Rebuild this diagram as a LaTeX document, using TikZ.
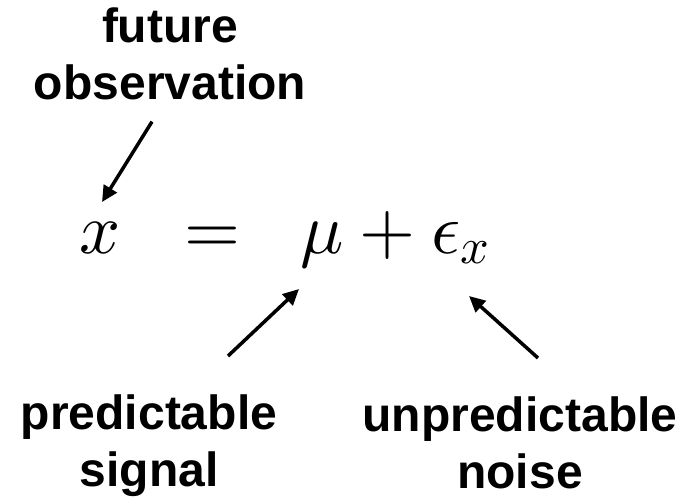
\documentclass[tikz,border=0pt]{standalone}
\usepackage{fix-cm}
\usepackage{amsmath}
\usepackage[no-math]{fontspec}
\newfontfamily\labelfont{Liberation Sans}
\usetikzlibrary{arrows.meta}
% heavier 10pt design sizes for the big formula
\DeclareFontShape{OML}{cmm}{m}{it}{<->cmmi10}{}
\DeclareFontShape{OT1}{cmr}{m}{n}{<->cmr10}{}

\begin{document}
\begin{tikzpicture}[x=1pt,y=-1pt,
  lbl/.style={inner sep=0pt,align=center,font=\labelfont\bfseries\fontsize{48}{57}\selectfont},
  eqn/.style={inner sep=0pt,anchor=base,font=\fontsize{72}{80}\selectfont},
  arr/.style={line width=3.5pt,-{Triangle[length=16pt,width=15pt]}}]
\useasboundingbox (0,0) rectangle (700,499);

\node[lbl,anchor=north] (fut) at (170,8) {future\\observation};
\node[lbl,anchor=north] (pred) at (149,395) {predictable\\signal};
\node[lbl,anchor=north] (unpred) at (520,397) {unpredictable\\noise};

\node[eqn] (xvar) at (100,253) {$x$};
\node[eqn] (eq) at (212,253) {$=$};
\node[eqn] (rhs) at (395,253) {$\mu+\epsilon_x$};

\draw[arr] ([shift={(-18,21)}]fut.south) -- ([shift={(2,-51)}]xvar.base);
\draw[arr] ([shift={(79,-39)}]pred.north) -- ([shift={(-96,36)}]rhs.base);
\draw[arr] ([shift={(18,-39)}]unpred.north) -- ([shift={(74,43)}]rhs.base);
\end{tikzpicture}
\end{document}
